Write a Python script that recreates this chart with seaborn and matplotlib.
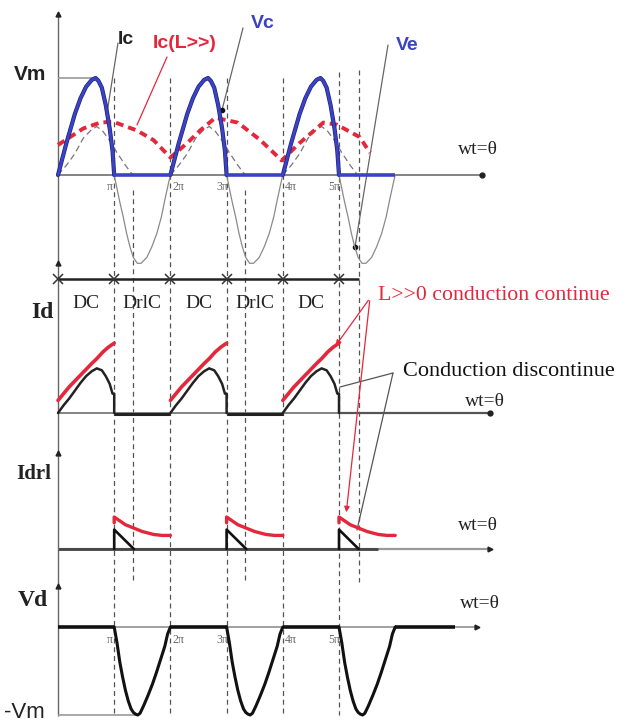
import matplotlib.pyplot as plt
import seaborn as sns
import pandas as pd

# ================= DATA =================
# angles in units of pi, values per unit of Vm
cycle_starts = [0, 2, 4]

vc_phase = [0, 0.05, 0.1, 0.15, 0.2, 0.3, 0.4, 0.5, 0.6, 0.67, 0.72, 0.78,
            0.85, 0.92, 0.97, 1.0]
vc_vals = [0, 0.11, 0.22, 0.33, 0.43, 0.63, 0.79, 0.91, 0.98, 1.0, 0.97,
           0.9, 0.72, 0.48, 0.25, 0]

ve_neg_phase = [1.0, 1.05, 1.1, 1.16, 1.22, 1.28, 1.34, 1.41, 1.48, 1.58,
                1.67, 1.76, 1.84, 1.9, 1.96, 2.0]
ve_neg_vals = [0, -0.14, -0.28, -0.43, -0.6, -0.74, -0.85, -0.91, -0.91,
               -0.85, -0.74, -0.6, -0.43, -0.26, -0.1, 0]

ic_phase = [0, 0.15, 0.3, 0.45, 0.6, 0.69, 0.8, 0.95, 1.05, 1.2, 1.33]
ic_vals = [0, 0.1, 0.22, 0.38, 0.47, 0.5, 0.45, 0.33, 0.23, 0.1, 0]

icL_theta = [0, 0.45, 0.75, 0.98, 1.4, 1.7, 2.0, 2.3, 2.53, 2.8, 3.2, 3.6,
             3.98, 4.3, 4.72, 4.96, 5.37, 5.55]
icL_vals = [0.31, 0.48, 0.54, 0.55, 0.46, 0.36, 0.18, 0.33, 0.46, 0.59, 0.54,
            0.36, 0.15, 0.33, 0.54, 0.52, 0.39, 0.23]

id_phase = [0, 0.1, 0.2, 0.3, 0.4, 0.5, 0.6, 0.69, 0.78, 0.85, 0.92, 0.97,
            1.0, 1.0]
id_vals = [0, 0.08, 0.15, 0.23, 0.31, 0.38, 0.43, 0.46, 0.44, 0.38, 0.3,
           0.2, 0.2, 0]
idL_phase = [0, 0.1, 0.2, 0.3, 0.45, 0.6, 0.69, 0.8, 0.9, 1.0]
idL_vals = [0.13, 0.2, 0.27, 0.33, 0.42, 0.51, 0.56, 0.63, 0.68, 0.72]

idrl_phase = [1.0, 1.0, 1.35]
idrl_vals = [0, 0.2, 0]
idrlL_phase = [1.0, 1.0, 1.1, 1.2, 1.33, 1.5, 1.7, 1.85, 2.0]
idrlL_vals = [0.27, 0.33, 0.29, 0.25, 0.22, 0.18, 0.15, 0.14, 0.14]
idrlL_starts = [0, 2, 4]

vd_phase = [1.0, 1.05, 1.1, 1.15, 1.2, 1.25, 1.3, 1.34, 1.38, 1.42, 1.46,
            1.52, 1.6, 1.68, 1.75, 1.82, 1.9, 1.95, 2.0]
vd_vals = [0, -0.18, -0.4, -0.57, -0.72, -0.84, -0.93, -0.97, -0.99, -1.0,
           -0.98, -0.9, -0.78, -0.65, -0.52, -0.38, -0.22, -0.08, 0]

interval_labels = ["DC", "DrlC", "DC", "DrlC", "DC"]
tick_labels = ["π", "2π", "3π", "4π", "5π"]

# ================= LAYOUT =================
X0, XS = 58, 56.2           # pixel x of theta=0, pixels per pi


def px(x):
    return (x - X0) / XS


TOP, ID, IDRL, VD = 175, 413, 549, 627
SC = 97
VD_SC = 88

RED = "#e3283c"
BLUE = "#3b43c2"
GREY = "#7a7a7a"
SERIF = "Liberation Serif"
SANS = "Liberation Sans"

sns.set_theme(style="white")
fig = plt.figure(figsize=(6.27, 7.22), dpi=100)
ax = fig.add_axes([0, 0, 1, 1])


def draw(phase, vals, base, scale, starts=cycle_starts, **kw):
    rows = []
    for k, s in enumerate(starts):
        for p, v in zip(phase, vals):
            rows.append((k, s + p, base - scale * v))
    df = pd.DataFrame(rows, columns=["cycle", "theta", "y"])
    sns.lineplot(data=df, x="theta", y="y", units="cycle", estimator=None,
                 sort=False, ax=ax, legend=False, solid_joinstyle="round",
                 **kw)


# ================= GUIDES =================
ax.vlines([1, 2, 3, 4], 78, 715, colors="#555", linewidth=0.9,
          linestyles=(0, (4, 3)), zorder=1)
ax.vlines([5], 72, 715, colors="#555", linewidth=0.9,
          linestyles=(0, (4, 3)), zorder=1)
ax.vlines([1.33, 3.33], 190, 582, colors="#555", linewidth=0.9,
          linestyles=(0, (4, 3)), zorder=1)
ax.vlines([5.36], 70, 582, colors="#555", linewidth=0.9,
          linestyles=(0, (4, 3)), zorder=1)

# vertical axis through all panels
ax.vlines([0], 14, 716, colors="#666", linewidth=1.0, zorder=2)
for yy in [14, 263, 453, 586]:
    ax.plot([0], [yy], marker="^", color="#222", markersize=3.5, zorder=3)

# baselines
ax.hlines(TOP, 0, px(482), colors=GREY, linewidth=1.3, zorder=2)
ax.plot([px(482)], [TOP], "o", color="#222", markersize=3.5)
ax.hlines(ID, 0, px(490), colors=GREY, linewidth=1.3, zorder=2)
ax.hlines(ID, 5, px(490), colors="#555", linewidth=1.6, zorder=2)
ax.plot([px(490)], [ID], "o", color="#222", markersize=3.5)
ax.hlines(IDRL, 0, px(490), colors="#999", linewidth=1.6, zorder=2)
ax.hlines(IDRL, 0, px(378), colors="#444", linewidth=2.0, zorder=3)
ax.plot([px(490)], [IDRL], ">", color="#222", markersize=3.5)
ax.hlines(VD, 0, px(477), colors="#999", linewidth=1.3, zorder=2)
ax.plot([px(477)], [VD], ">", color="#222", markersize=3.5)

# Vm / -Vm reference lines
ax.hlines(TOP - SC, 0, 0.69, colors="#999", linewidth=1.2)
ax.hlines(VD + VD_SC, 0, 1.42, colors="#999", linewidth=1.2)

# conduction intervals
ax.hlines(279, 0, px(359), colors="#222", linewidth=1.8, zorder=3)
ax.plot(range(6), [279] * 6, "x", color="#333", markersize=7, mew=1.1,
        zorder=4)
for i, lab in enumerate(interval_labels):
    ax.text(i + 0.5, 304, lab, fontsize=14, family=SERIF, ha="center",
            va="center", color="#222")

# ================= TOP PANEL =================
draw(vc_phase + ve_neg_phase[1:], vc_vals + ve_neg_vals[1:], TOP, SC,
     color="#8a8a8a", linewidth=0.9, zorder=3)
draw(ic_phase, ic_vals, TOP, SC, color="#777", linewidth=0.9,
     linestyle=(0, (5, 3)), zorder=4)
sns.lineplot(x=icL_theta, y=[TOP - SC * v for v in icL_vals], ax=ax,
             estimator=None, sort=False, color=RED, linewidth=2.8,
             linestyle=(0, (2, 1.3)), zorder=5)
draw(vc_phase, vc_vals, TOP, SC, color="#1e2280", linewidth=3.0, zorder=6)
draw(vc_phase, vc_vals, TOP, SC, color=BLUE, linewidth=2.0, zorder=7)
ax.hlines([TOP] * 3, [1, 3, 5], [2, 4, 6], colors=BLUE, linewidth=2.6,
          zorder=6)

for i, lab in enumerate(tick_labels):
    xo = -0.08 if i % 2 == 0 else 0.14
    ax.text(i + 1 + xo, 187, lab, fontsize=8.5, family=SERIF, color="#666",
            ha="center", va="center")
    ax.text(i + 1 + xo, 640, lab, fontsize=8.5, family=SERIF, color="#666",
            ha="center", va="center")

# ================= Id =================
draw(idL_phase, idL_vals, ID, SC, color=RED, linewidth=2.6, zorder=5)
draw(id_phase, id_vals, ID, SC, color="#222", linewidth=1.8, zorder=5)
ax.hlines([ID + 1] * 2, [1, 3], [2, 4], colors="#222", linewidth=2.2,
          zorder=4)

# ================= Idrl =================
draw(idrlL_phase, idrlL_vals, IDRL, SC, starts=idrlL_starts, color=RED,
     linewidth=2.4, zorder=5)
draw(idrl_phase, idrl_vals, IDRL, SC, color="#111", linewidth=1.9, zorder=5)

# ================= Vd =================
draw(vd_phase, vd_vals, VD, VD_SC, color="#111", linewidth=2.2, zorder=5)
ax.hlines([VD] * 4, [0, 2, 4, 6], [1, 3, 5, px(455)], colors="#111",
          linewidth=2.6, zorder=4)

# ================= LABELS =================
ax.text(px(14), 74, "Vm", fontsize=15, family=SANS, weight="bold",
        va="center", color="#222")
ax.text(px(118), 40, "Ic", fontsize=14, family=SANS, weight="bold",
        va="center", color="#222")
ax.text(px(153), 43, "Ic(L>>)", fontsize=14, family=SANS, weight="bold",
        va="center", color=RED)
ax.text(px(251), 24, "Vc", fontsize=14, family=SANS, weight="bold",
        va="center", color=BLUE)
ax.text(px(396), 45, "Ve", fontsize=14, family=SANS, weight="bold",
        va="center", color=BLUE)

ax.text(px(31), 313, "Id", fontsize=17, family=SERIF, weight="bold",
        va="center", color="#222")
ax.text(px(16), 474, "Idrl", fontsize=15, family=SERIF, weight="bold",
        va="center", color="#222")
ax.text(px(18), 600, "Vd", fontsize=17, family=SERIF, weight="bold",
        va="center", color="#222")
ax.text(px(4), 712, "-Vm", fontsize=16, family=SANS, va="center",
        color="#222")

for xx, yy in [(458, 150), (465, 401), (458, 526), (460, 604)]:
    ax.text(px(xx), yy, "wt=θ", fontsize=14, family=SERIF, va="center",
            color="#222")

ax.text(px(378), 296, "L>>0 conduction continue", fontsize=15.7,
        family=SERIF, va="center", color=RED)
ax.text(px(403), 372, "Conduction discontinue", fontsize=16, family=SERIF,
        va="center", color="#111")

# leader lines
ax.plot([px(118), px(107)], [43, 113], color="#666", linewidth=0.9)
ax.plot([px(167), px(137)], [57, 125], color=RED, linewidth=0.9)
ax.plot([px(243), px(222)], [28, 110], color="#666", linewidth=0.9)
ax.plot([px(222)], [110], "o", color="#111", markersize=3)
ax.plot([px(388), px(355)], [45, 247], color="#666", linewidth=0.9)
ax.plot([px(355)], [247], "o", color="#111", markersize=3)
for tx, ty in [(334, 348), (346, 515)]:
    ax.annotate("", xy=(px(tx), ty), xytext=(px(370), 298),
                arrowprops=dict(arrowstyle="-|>", color=RED, lw=0.9,
                                mutation_scale=8))
for tx, ty in [(340, 387), (357, 530)]:
    ax.plot([px(393), px(tx)], [373, ty], color="#555", linewidth=0.9)

ax.set_xlim(px(0), px(627))
ax.set_ylim(722, 0)
ax.axis("off")

plt.savefig("out.png", dpi=100)
plt.close()
